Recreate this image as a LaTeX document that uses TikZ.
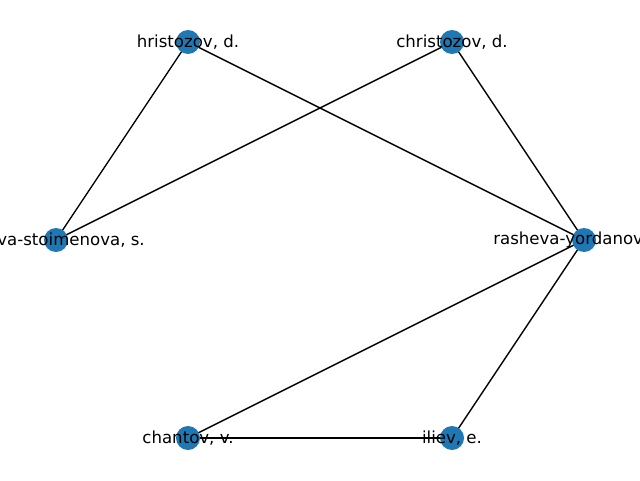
\documentclass[tikz,border=0pt]{standalone}
\usepackage{fontspec}
\setmainfont{DejaVu Sans}
\usetikzlibrary{backgrounds}

\definecolor{nxblue}{HTML}{1F77B4}

\begin{document}
\begin{tikzpicture}[
vert/.style ={circle, fill=nxblue, draw=none, minimum size=0.6cm, inner sep=0pt},
lbl/.style ={inner sep=0pt, font=\fontsize{11.8}{14}\selectfont},
edge/.style ={draw=black, line width=0.98pt}]

\useasboundingbox (0,0) rectangle (16,12);
\clip (0,0) rectangle (16,12);

\node[vert] (Hri) at (4.70,10.95) {};
\node[vert] (Chr) at (11.30,10.95) {};
\node[vert] (Sto) at (1.40,6.00) {};
\node[vert] (Ras) at (14.60,6.00) {};
\node[vert] (Cha) at (4.70,1.05) {};
\node[vert] (Ili) at (11.30,1.05) {};

\begin{scope}[on background layer]
\draw[edge] (Hri.center)--(Sto.center);
\draw[edge] (Hri.center)--(Ras.center);
\draw[edge] (Chr.center)--(Sto.center);
\draw[edge] (Chr.center)--(Ras.center);
\draw[edge] (Ras.center)--(Cha.center);
\draw[edge] (Ras.center)--(Ili.center);
\draw[edge] (Cha.center)--(Ili.center);
\end{scope}

\node[lbl] (HriL) at (Hri) {hristozov, d.};
\node[lbl] (ChrL) at (Chr) {christozov, d.};
\node[lbl, anchor=east] (StoL) at (3.625,6.00) {va-stoimenova, s.};
\node[lbl, anchor=west] (RasL) at (12.325,6.00) {rasheva-yordanov};
\node[lbl] (ChaL) at (Cha) {chantov, v.};
\node[lbl] (IliL) at (Ili) {iliev, e.};

\end{tikzpicture}
\end{document}
